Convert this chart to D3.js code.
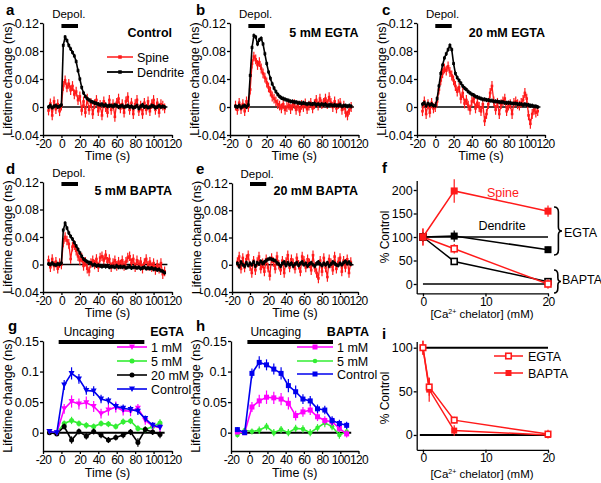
<!DOCTYPE html>
<html><head><meta charset="utf-8">
<script src="https://cdn.jsdelivr.net/npm/d3@7"></script>
<style>
body{margin:0;background:#fff;}
text{font-family:"Liberation Sans",Arial,sans-serif;}
</style></head>
<body>
<script>
// ---------- DATA ----------
const timeTS = [-14,-12,-10,-8,-6,-4,-2,0, 2,4,6,8,10,12,14,16, 18,20,22,24,26,28,30,32, 34,36,38,40,42,44,46,48,
  50,52,54,56,58,60,62,64, 66,68,70,72,74,76,78,80, 82,84,86,88,90,92,94,96, 98,100,102,104,106,108,110,112];
const xTicksTS = [-20,0,20,40,60,80,100,120];
const yTicksTS = [-0.04,0,0.04,0.08,0.12];
const yTickLabelsTS = ["-0.04","0","0.04","0.08","0.12"];

const aDend = [0.000,0.002,-0.001,0.001,0.002,0.000,0.001,0.003, 0.088,0.100,0.095,0.088,0.083,0.078,0.073,0.065,
  0.052,0.040,0.028,0.020,0.015,0.012,0.010,0.008, 0.007,0.006,0.005,0.004,0.003,0.004,0.002,0.003,
  0.001,0.002,0.002,0.001,0.003,0.002,0.000,0.001, 0.002,0.000,0.001,0.002,0.000,0.001,-0.001,0.000,
  0.002,-0.002,0.001,0.003,0.000,0.001,-0.001,0.000, 0.002,0.001,-0.001,0.000,0.002,0.000,0.001,0.000];
const aSpine = [-0.005,0.005,-0.012,0.008,-0.003,0.004,-0.006,0.002, 0.030,0.038,0.028,0.033,0.024,0.030,0.018,0.022,
  0.010,0.015,-0.005,0.008,-0.008,0.012,-0.004,0.006, -0.010,0.004,0.010,-0.006,0.003,-0.012,0.008,0.000,
  -0.008,0.010,-0.004,0.004,-0.014,0.006,0.012,-0.002, 0.004,-0.008,0.008,0.014,-0.004,0.006,-0.010,0.004,
  0.010,-0.006,0.002,-0.010,0.006,-0.004,0.008,-0.006, 0.004,0.010,-0.004,0.006,-0.008,0.004,0.002,-0.002];
const bDend = [0.001,0.000,0.002,-0.001,0.001,0.002,0.000,0.003, 0.045,0.085,0.102,0.100,0.090,0.096,0.098,0.090,
  0.076,0.062,0.050,0.041,0.033,0.027,0.022,0.018, 0.015,0.013,0.012,0.011,0.010,0.009,0.008,0.008,
  0.007,0.007,0.006,0.006,0.005,0.006,0.005,0.004, 0.005,0.004,0.004,0.005,0.003,0.004,0.003,0.004,
  0.003,0.004,0.002,0.003,0.003,0.002,0.003,0.002, 0.002,0.003,0.001,0.002,0.002,0.001,0.002,0.001];
const bSpine = [0.002,-0.004,0.006,-0.003,0.004,-0.006,0.008,0.000, 0.025,0.062,0.072,0.068,0.060,0.064,0.055,0.048,
  0.042,0.035,0.028,0.022,0.015,0.012,0.008,0.004, 0.002,-0.002,0.004,-0.004,0.000,0.003,-0.003,0.002,
  0.004,-0.004,0.002,-0.006,0.003,0.000,0.005,-0.003, 0.002,0.006,-0.002,0.004,0.010,0.002,0.012,0.004,
  0.006,0.012,0.004,0.014,0.006,0.000,0.008,-0.002, 0.004,0.006,-0.004,0.002,-0.008,-0.012,-0.004,0.000];
const cDend = [0.004,0.006,0.002,0.005,0.003,0.004,0.002,0.002, 0.012,0.030,0.048,0.060,0.070,0.076,0.082,0.088,
  0.082,0.062,0.048,0.042,0.038,0.034,0.030,0.027, 0.025,0.022,0.020,0.018,0.017,0.015,0.014,0.013,
  0.012,0.011,0.011,0.010,0.010,0.009,0.009,0.008, 0.008,0.008,0.007,0.007,0.007,0.006,0.006,0.006,
  0.006,0.005,0.005,0.005,0.004,0.004,0.004,0.003, 0.004,0.003,0.003,0.002,0.002,0.001,0.001,0.000];
const cSpine = [-0.006,0.008,-0.010,0.004,-0.008,0.006,-0.002,0.000, 0.008,0.025,0.038,0.048,0.055,0.052,0.058,0.050,
  0.045,0.038,0.030,0.022,0.028,0.012,0.020,0.005, 0.010,0.002,-0.004,0.008,0.012,-0.002,0.006,0.000,
  -0.006,0.004,-0.020,-0.010,0.004,0.020,0.030,0.008, -0.004,0.006,-0.010,0.004,0.008,0.012,-0.006,0.002,
  0.004,-0.010,0.006,0.008,0.004,0.002,0.006,0.010, 0.020,0.012,-0.012,-0.024,-0.010,-0.004,-0.008,-0.006];
const dDend = [0.001,0.000,0.002,0.000,-0.001,0.001,0.000,0.002, 0.050,0.060,0.053,0.046,0.041,0.037,0.032,0.027,
  0.022,0.017,0.012,0.008,0.006,0.004,0.003,0.002, -0.001,0.000,-0.002,-0.001,-0.002,-0.003,-0.002,-0.003,
  -0.002,-0.004,-0.003,-0.003,-0.004,-0.002,-0.004,-0.003, -0.004,-0.003,-0.005,-0.004,-0.003,-0.005,-0.004,-0.004,
  -0.005,-0.004,-0.006,-0.005,-0.004,-0.006,-0.005,-0.006, -0.005,-0.007,-0.006,-0.008,-0.007,-0.009,-0.010,-0.012];
const dSpine = [0.006,-0.004,0.008,-0.002,0.004,-0.006,0.002,0.000, 0.032,0.040,0.035,0.030,0.008,0.026,0.028,0.020,
  0.012,0.006,0.010,-0.002,0.004,-0.006,-0.010,0.002, 0.006,0.000,0.008,-0.004,0.010,0.012,0.006,0.014,
  0.004,0.008,-0.004,0.002,0.006,-0.002,0.004,0.000, 0.006,-0.002,0.004,0.010,0.012,0.002,0.008,-0.004,
  0.006,0.000,0.004,-0.006,0.002,0.008,-0.002,0.004, -0.004,0.002,-0.008,0.000,-0.006,0.002,-0.014,-0.010];
const eDend = [0.002,-0.003,0.004,0.000,-0.002,0.003,-0.001,0.002, 0.000,0.004,-0.002,0.003,0.001,0.005,0.002,0.004,
  0.006,0.008,0.009,0.008,0.007,0.006,0.003,0.001, -0.002,0.002,0.004,-0.001,0.003,0.000,0.002,-0.002,
  0.001,0.003,-0.001,0.002,0.004,0.000,0.002,-0.002, 0.001,0.003,0.000,-0.002,0.002,0.004,0.001,-0.001,
  0.002,0.000,0.003,-0.002,0.001,0.004,0.002,0.000, -0.001,0.002,0.000,0.003,0.005,0.002,0.004,0.001];
const eSpine = [0.004,0.012,-0.006,0.010,-0.004,0.008,0.014,-0.002, -0.012,0.006,-0.008,0.004,0.012,-0.006,0.002,-0.010,
  0.008,-0.004,-0.016,0.010,0.004,-0.006,0.012,0.000, -0.008,0.006,-0.012,0.004,0.014,-0.004,0.008,0.002,
  -0.006,0.010,0.000,-0.010,0.012,0.006,-0.004,0.008, 0.002,-0.008,0.014,-0.004,-0.012,-0.020,0.006,-0.010,
  0.010,-0.004,-0.018,0.008,0.002,-0.008,0.012,-0.006, 0.004,0.010,-0.010,0.006,-0.004,0.008,-0.012,0.004];
const spineErr = 0.007, dendErr = 0.003;

// panels g, h
const timeU = [-13,-5,3,11,19,27,35,43,51,59,67,75,83,91,99,107];
const yTicksU = [0,0.05,0.1,0.15];
const yTickLabelsU = ["0","0.05","0.1","0.15"];
const gCtrl = [0.002,0.000,0.078,0.097,0.088,0.069,0.068,0.055,0.052,0.043,0.040,0.038,0.035,0.023,0.012,0.009];
const gCtrlErr = [0.003,0.003,0.008,0.010,0.008,0.007,0.008,0.007,0.006,0.006,0.006,0.006,0.006,0.005,0.005,0.004];
const g1mM = [0.002,0.000,0.039,0.051,0.047,0.049,0.043,0.031,0.037,0.042,0.036,0.035,0.040,0.020,0.011,0.008];
const g1mMErr = [0.003,0.003,0.008,0.010,0.009,0.010,0.009,0.008,0.009,0.009,0.008,0.008,0.007,0.007,0.006,0.006];
const g5mM = [0.001,0.000,0.015,0.020,0.015,0.012,0.010,0.015,0.014,0.010,0.018,0.019,0.007,0.005,0.010,0.016];
const g5mMErr = [0.003,0.003,0.005,0.006,0.005,0.005,0.005,0.005,0.005,0.005,0.005,0.005,0.005,0.005,0.005,0.006];
const g20mM = [0.000,-0.002,0.010,-0.012,0.002,-0.006,0.002,-0.004,-0.012,-0.008,-0.004,0.001,-0.016,0.005,0.001,-0.003];
const g20mMErr = [0.003,0.003,0.005,0.006,0.005,0.005,0.005,0.005,0.005,0.005,0.005,0.005,0.007,0.005,0.005,0.006];
const hCtrl = [0.005,0.000,0.097,0.115,0.111,0.104,0.097,0.077,0.067,0.055,0.052,0.039,0.037,0.020,0.015,0.012];
const hCtrlErr = [0.004,0.004,0.008,0.010,0.009,0.009,0.010,0.011,0.010,0.008,0.008,0.007,0.007,0.007,0.006,0.006];
const h1mM = [0.001,0.000,0.042,0.052,0.058,0.057,0.055,0.048,0.028,0.034,0.037,0.026,0.020,0.018,0.007,-0.002];
const h1mMErr = [0.003,0.003,0.008,0.010,0.011,0.010,0.010,0.010,0.008,0.008,0.008,0.007,0.007,0.007,0.006,0.006];
const h5mM = [-0.004,0.004,0.002,0.004,0.010,0.000,0.005,0.000,0.007,0.006,0.000,0.008,0.016,0.010,-0.004,0.002];
const h5mMErr = [0.004,0.004,0.005,0.006,0.006,0.006,0.006,0.006,0.006,0.006,0.006,0.006,0.007,0.006,0.006,0.006];

// panel f
const concF = [0,5,20];
const fSpineEGTA = [100,198,155], fSpineEGTAErr = [18,25,12];
const fDendEGTA = [100,102,73], fDendEGTAErr = [10,12,6];
const fSpineBAPTA = [100,75,0], fSpineBAPTAErr = [18,10,10];
const fDendBAPTA = [100,48,5], fDendBAPTAErr = [8,5,4];
const yTicksF = [0,50,100,150,200];
const xTicksC = [0,10,20];
// panel i
const concI = [0,1,5,20];
const iEGTA = [100,55,17,1], iEGTAErr = [8,10,4,5];
const iBAPTA = [100,52,5,0], iBAPTAErr = [8,14,6,3];
const yTicksI = [0,50,100];

// ---------- DRAW ----------
const RED = "#ff1a1a", BLUE = "#0000ee", MAG = "#ff00ff", GRN = "#33ee33";
const svg = d3.select("body").append("svg").attr("width",601).attr("height",483);
const FS = 12.5;

function axes(g, x, y, xt, xl, yt, yl) {
  const ax = g.append("g").attr("transform",`translate(0,${y.range()[0]})`)
    .call(d3.axisBottom(x).tickValues(xt).tickFormat((d,i)=>xl[i]).tickSize(3).tickSizeOuter(0).tickPadding(1));
  const ay = g.append("g").attr("transform",`translate(${x.range()[0]},0)`)
    .call(d3.axisLeft(y).tickValues(yt).tickFormat((d,i)=>yl[i]).tickSize(3).tickSizeOuter(0).tickPadding(1));
  [ax,ay].forEach(a=>{
    a.selectAll("path,line").attr("stroke","#000").attr("stroke-width",1.3);
    a.selectAll("text").attr("font-size",FS).attr("fill","#000").style("font-family","Liberation Sans, Arial");
  });
  ax.selectAll("text").attr("font-size",12).attr("letter-spacing",-0.6);
  return {ax, ay};
}

function series(g, x, y, xs, ys, err, color, marker, msize, lw) {
  const pts = xs.map((t,i)=>({t, v:ys[i], e: Array.isArray(err)?err[i]:err}));
  g.append("g").selectAll("line").data(pts).join("line")
    .attr("x1",d=>x(d.t)).attr("x2",d=>x(d.t))
    .attr("y1",d=>y(d.v-d.e)).attr("y2",d=>y(d.v+d.e))
    .attr("stroke",color).attr("stroke-width",1.2);
  g.append("path").datum(pts).attr("fill","none").attr("stroke",color).attr("stroke-width",lw)
    .attr("d", d3.line().x(d=>x(d.t)).y(d=>y(d.v)));
  markers(g, pts.map(d=>[x(d.t), y(d.v)]), color, marker, msize);
}

function markers(g, xy, color, marker, s) {
  const sel = g.append("g");
  xy.forEach(([px,py])=>{
    if (marker==="sq" || marker==="osq") {
      sel.append("rect").attr("x",px-s/2).attr("y",py-s/2).attr("width",s).attr("height",s)
        .attr("fill", marker==="osq"?"#fff":color).attr("stroke",color).attr("stroke-width", marker==="osq"?1.6:0);
    } else if (marker==="circ") {
      sel.append("circle").attr("cx",px).attr("cy",py).attr("r",s/2).attr("fill",color);
    } else if (marker==="tri") {
      sel.append("path").attr("d",`M${px-s/2},${py-s/2.4}L${px+s/2},${py-s/2.4}L${px},${py+s/2}Z`).attr("fill",color);
    }
  });
}

function legendItem(g, x1, x2, tx, yy, color, marker, s, label, lw) {
  g.append("line").attr("x1",x1).attr("x2",x2).attr("y1",yy).attr("y2",yy).attr("stroke",color).attr("stroke-width",lw);
  markers(g, [[(x1+x2)/2, yy]], color, marker, s);
  g.append("text").attr("x",tx).attr("y",yy+4.5).attr("font-size",FS).text(label);
}

function txt(x, y, s, opts={}) {
  const t = svg.append("text").attr("x",x).attr("y",y).attr("font-size",opts.fs||FS).text(s);
  if (opts.bold) t.attr("font-weight","bold");
  if (opts.anchor) t.attr("text-anchor",opts.anchor);
  if (opts.fill) t.attr("fill",opts.fill);
  if (opts.rot) t.attr("transform",`rotate(-90,${x},${y})`);
  return t;
}

function tsPanel(p) {
  const g = svg.append("g");
  const x = d3.scaleLinear().domain([-20,120]).range([p.x0,p.x1]);
  const y = d3.scaleLinear().domain([-0.04,0.12]).range([p.y1,p.y0]);
  axes(g, x, y, xTicksTS, xTicksTS.map(String), yTicksTS, yTickLabelsTS);
  g.append("line").attr("x1",x(-15)).attr("x2",x(115)).attr("y1",y(0)).attr("y2",y(0)).attr("stroke","#000").attr("stroke-width",1.4);
  g.append("line").attr("x1",x(0)).attr("x2",x(18)).attr("y1",p.y0+p.barOff).attr("y2",p.y0+p.barOff).attr("stroke","#000").attr("stroke-width",4);
  txt(x(8), p.y0-5, "Depol.", {anchor:"middle", fs:11.5});
  series(g, x, y, timeTS, p.spine, spineErr, RED, "sq", 2.6, 1.3);
  series(g, x, y, timeTS, p.dend, dendErr, "#000", "sq", 2.8, 1.6);
  txt(x(120), p.y0+p.titleOff, p.title, {bold:true, anchor:"end"});
  txt(p.x0-31, (p.y0+p.y1)/2, "Lifetime change (ns)", {anchor:"middle", rot:true});
  txt((p.x0+p.x1)/2, p.y1+25, "Time (s)", {anchor:"middle"});
  return g;
}

const ga = tsPanel({x0:43,x1:172,y0:23,y1:135,spine:aSpine,dend:aDend,title:"Control",barOff:3,titleOff:14});
legendItem(ga,107,133,137,57,RED,"sq",3.5,"Spine",1.5);
legendItem(ga,107,133,137,72,"#000","sq",3.5,"Dendrite",1.8);
tsPanel({x0:230,x1:358.5,y0:23,y1:135,spine:bSpine,dend:bDend,title:"5 mM EGTA",barOff:3,titleOff:14});
tsPanel({x0:417,x1:545,y0:23,y1:135,spine:cSpine,dend:cDend,title:"20 mM EGTA",barOff:3,titleOff:14});
tsPanel({x0:43,x1:172,y0:182,y1:292,spine:dSpine,dend:dDend,title:"5 mM BAPTA",barOff:2,titleOff:13});
tsPanel({x0:232,x1:358,y0:183,y1:292,spine:eSpine,dend:eDend,title:"20 mM BAPTA",barOff:1,titleOff:12});

function uPanel(p) {
  const g = svg.append("g");
  const x = d3.scaleLinear().domain([-20,120]).range([p.x0,p.x1]);
  const y = d3.scaleLinear().domain([-0.03,0.15]).range([451,341]);
  axes(g, x, y, xTicksTS, xTicksTS.map(String), yTicksU, yTickLabelsU);
  g.append("line").attr("x1",x(-15)).attr("x2",x(112)).attr("y1",y(0)).attr("y2",y(0)).attr("stroke","#000").attr("stroke-width",2);
  g.append("line").attr("x1",x(p.b0)).attr("x2",x(p.b1)).attr("y1",342).attr("y2",342).attr("stroke","#000").attr("stroke-width",4);
  txt(x(p.b0)+p.ux, 336, "Uncaging", {fs:12});
  txt(p.tx, 336, p.title, {bold:true, anchor:"end", fill:p.tfill});
  p.series.forEach(s=>series(g, x, y, timeU, s.v, s.e, s.c, s.m, s.s, 1.6));
  p.legend.forEach((l,i)=>legendItem(g, p.lx0, p.lx1, p.lx1+4, p.ly[i], l.c, l.m, l.s, l.label, 1.6));
  txt(p.x0-31, 396, "Lifetime change (ns)", {anchor:"middle", rot:true});
  txt((p.x0+p.x1)/2, 477, "Time (s)", {anchor:"middle"});
}
uPanel({x0:43,x1:172,b0:-3,b1:90,ux:5,tx:184,title:"EGTA",tfill:"#000",
  series:[{v:g5mM,e:g5mMErr,c:GRN,m:"circ",s:5},{v:g20mM,e:g20mMErr,c:"#000",m:"circ",s:5},
          {v:g1mM,e:g1mMErr,c:MAG,m:"tri",s:6},{v:gCtrl,e:gCtrlErr,c:BLUE,m:"tri",s:6}],
  lx0:117,lx1:147,ly:[347,361,375,389],
  legend:[{c:MAG,m:"tri",s:6,label:"1 mM"},{c:GRN,m:"circ",s:5,label:"5 mM"},{c:"#000",m:"circ",s:5,label:"20 mM"},{c:BLUE,m:"tri",s:6,label:"Control"}]});
uPanel({x0:231,x1:358.5,b0:-2,b1:92,ux:3,tx:369,title:"BAPTA",tfill:"#000",
  series:[{v:h5mM,e:h5mMErr,c:GRN,m:"circ",s:4.5},{v:h1mM,e:h1mMErr,c:MAG,m:"sq",s:5},{v:hCtrl,e:hCtrlErr,c:BLUE,m:"sq",s:5}],
  lx0:297,lx1:333,ly:[347,361,374],
  legend:[{c:MAG,m:"sq",s:5,label:"1 mM"},{c:GRN,m:"circ",s:4.5,label:"5 mM"},{c:BLUE,m:"sq",s:5,label:"Control"}]});

// panel f
(function(){
  const g = svg.append("g");
  const x = d3.scaleLinear().domain([-1,20]).range([416.7,548]);
  const y = d3.scaleLinear().domain([-20,220]).range([293.4,180.6]);
  axes(g, x, y, xTicksC, xTicksC.map(String), yTicksF, yTicksF.map(String));
  [0,100].forEach(v=>g.append("line").attr("x1",x(0)).attr("x2",x(20)).attr("y1",y(v)).attr("y2",y(v)).attr("stroke","#000").attr("stroke-width",1.3));
  series(g,x,y,concF,fDendBAPTA,fDendBAPTAErr,"#000","osq",6,1.5);
  series(g,x,y,concF,fSpineBAPTA,fSpineBAPTAErr,RED,"osq",6,1.5);
  series(g,x,y,concF,fDendEGTA,fDendEGTAErr,"#000","sq",7,1.5);
  series(g,x,y,concF,fSpineEGTA,fSpineEGTAErr,RED,"sq",7,1.5);
  txt(503,197,"Spine",{anchor:"middle",fill:RED,fs:12.5});
  txt(502,230,"Dendrite",{anchor:"middle",fs:12.5});
  function brace(x0,y1,y2,w){
    const ym=(y1+y2)/2, xm=x0+w*0.55;
    return `M${x0},${y1} Q${xm},${y1} ${xm},${y1+5} L${xm},${ym-4} Q${xm},${ym} ${x0+w},${ym} Q${xm},${ym} ${xm},${ym+4} L${xm},${y2-5} Q${xm},${y2} ${x0},${y2}`;
  }
  g.append("path").attr("d",brace(554,207,255,8)).attr("fill","none").attr("stroke","#000").attr("stroke-width",1.6);
  g.append("path").attr("d",brace(554,270,293,7)).attr("fill","none").attr("stroke","#000").attr("stroke-width",1.6);
  txt(564,237,"EGTA",{fs:12.5});
  txt(562,283.5,"BAPTA",{fs:12.5});
  txt(389,237,"% Control",{anchor:"middle",rot:true,fs:12});
  const lab = txt(482,318,"[Ca",{anchor:"middle",fs:11.5});
  lab.append("tspan").attr("font-size",7).attr("dy",-4).text("2+");
  lab.append("tspan").attr("dy",4).text(" chelator] (mM)");
})();

// panel i
(function(){
  const g = svg.append("g");
  const x = d3.scaleLinear().domain([-1,20]).range([416.7,548]);
  const y = d3.scaleLinear().domain([-17,107]).range([449.8,341.6]);
  axes(g, x, y, xTicksC, xTicksC.map(String), yTicksI, yTicksI.map(String));
  [0,100].forEach(v=>g.append("line").attr("x1",x(-0.5)).attr("x2",x(20)).attr("y1",y(v)).attr("y2",y(v)).attr("stroke","#000").attr("stroke-width",2));
  series(g,x,y,concI,iBAPTA,iBAPTAErr,RED,"sq",6,1.5);
  series(g,x,y,concI,iEGTA,iEGTAErr,RED,"osq",5.5,1.5);
  legendItem(g,494,523,528,356,RED,"osq",5.5,"EGTA",1.5);
  legendItem(g,494,523,528,373,RED,"sq",6,"BAPTA",1.5);
  txt(389,398,"% Control",{anchor:"middle",rot:true,fs:12});
  const lab = txt(482,478,"[Ca",{anchor:"middle",fs:11.5});
  lab.append("tspan").attr("font-size",7).attr("dy",-4).text("2+");
  lab.append("tspan").attr("dy",4).text(" chelator] (mM)");
})();

[["a",6,15],["b",196,15],["c",382,15],["d",6,174],["e",196,174],["f",382,173],["g",8,331],["h",196,331],["i",382,339]]
  .forEach(([l,x,y])=>txt(x,y,l,{bold:true,fs:15}));
</script>
</body></html>
